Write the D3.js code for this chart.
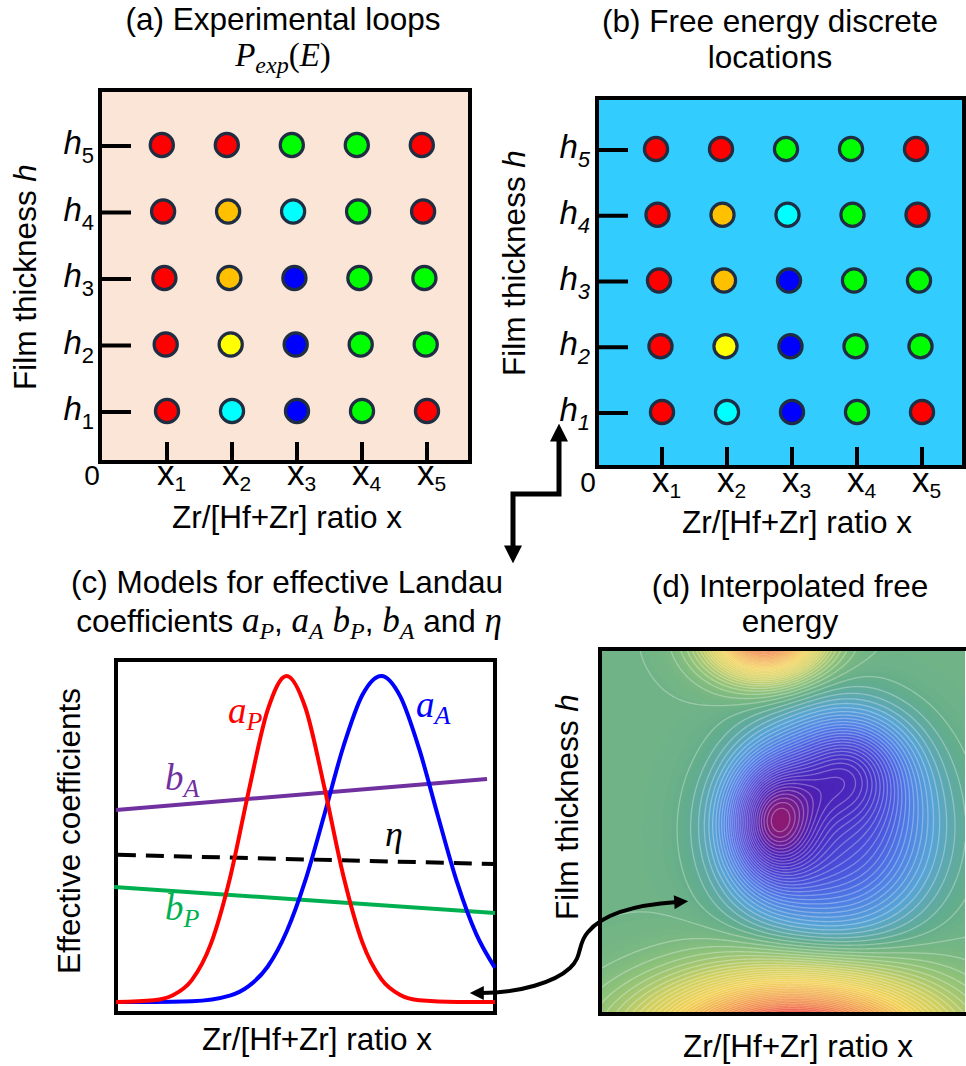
<!DOCTYPE html>
<html>
<head>
<meta charset="utf-8">
<script src="https://cdn.jsdelivr.net/npm/d3@7"></script>
<style>
  body { margin: 0; background: #fff; }
  text { font-family: "Liberation Sans", Arial, sans-serif; fill: #000; }
  .math { font-family: "Liberation Serif", "Times New Roman", serif; font-style: italic; }
</style>
</head>
<body>
<svg id="fig" width="966" height="1066"></svg>
<script>
// ---- data -------------------------------------------------------------
const xLevels = ['1', '2', '3', '4', '5'];
const hLevels = ['1', '2', '3', '4', '5'];

// Loop type observed at each (h, x) site, rows h1..h5, columns x1..x5.
const loopGrid = [
  ['red', 'cyan', 'blue', 'green', 'red'],
  ['red', 'yellow', 'blue', 'green', 'green'],
  ['red', 'orange', 'blue', 'green', 'green'],
  ['red', 'orange', 'cyan', 'green', 'red'],
  ['red', 'red', 'green', 'green', 'red'],
];
const loopColors = {
  red: '#ff0000', orange: '#ffc000', yellow: '#ffff00',
  green: '#00ff00', cyan: '#00ffff', blue: '#0000ff',
};

// Panel (c): effective coefficients vs composition (arbitrary units 0..10).
const aP = [[0, 0.31], [1, 0.36], [1.5, 0.5], [2, 0.93], [2.5, 1.95], [3, 3.79], [3.5, 6.28],
  [4, 8.58], [4.5, 9.55], [5, 8.64], [5.5, 6.38], [6, 3.88], [6.5, 2.0], [7, 0.96],
  [7.5, 0.51], [8, 0.36], [9, 0.31], [10, 0.31]];
const aA = [[0, 0.31], [1, 0.31], [2, 0.33], [3, 0.49], [3.5, 0.76], [4, 1.31], [4.5, 2.3],
  [5, 3.77], [5.5, 5.63], [6, 7.55], [6.5, 9.01], [7, 9.55], [7.5, 8.97], [8, 7.48],
  [8.5, 5.56], [9, 3.7], [9.5, 2.25], [10, 1.28]];
const bA = [[0, 5.75], [9.79, 6.63]];
const eta = [[0.05, 4.48], [10, 4.22]];
const bP = [[-0.05, 3.57], [10, 2.83]];

// Panel (d): free-energy landscape as wells (negative) and ridges (positive),
// in unit coordinates of the plot (u right, v down).
const wellU = [0.47, 0.68, 0.63, 0.53, 0.45];
const wellV = [0.47, 0.32, 0.5, 1.08, -0.04];
const wellDepth = [-1.3, -0.8, -1.2, 3.0, 2.4];
const wellSU = [0.08, 0.11, 0.19, 0.25, 0.1];
const wellSV = [0.11, 0.1, 0.19, 0.12, 0.075];
const wellShape = [1, 1, 1.25, 1, 1];

// ---- drawing ----------------------------------------------------------
const FS = 31.5;
const svg = d3.select('#fig');
const defs = svg.append('defs');

function addArrowMarker(id, len, wid) {
  defs.append('marker')
    .attr('id', id)
    .attr('viewBox', '0 0 10 10')
    .attr('refX', 2).attr('refY', 5)
    .attr('markerUnits', 'userSpaceOnUse')
    .attr('markerWidth', len).attr('markerHeight', wid)
    .attr('orient', 'auto-start-reverse')
    .append('path')
    .attr('d', 'M0,0 L10,5 L0,10 z')
    .attr('fill', '#000');
}
addArrowMarker('bigHead', 18, 19);
addArrowMarker('smallHead', 16, 14);

// Write "base" with a subscript using tspans.
function subText(sel, base, sub, opt) {
  const t = sel.append('text')
    .attr('x', opt.x).attr('y', opt.y)
    .attr('text-anchor', opt.anchor || 'start')
    .style('font-size', opt.size + 'px')
    .style('fill', opt.color || '#000');
  if (opt.math) t.attr('class', 'math');
  t.append('tspan').text(base).style('font-style', opt.baseItalic ? 'italic' : null);
  t.append('tspan')
    .attr('dy', opt.subDy)
    .style('font-size', opt.subSize + 'px')
    .style('font-style', opt.subItalic ? 'italic' : null)
    .text(sub);
  return t;
}

function title(lines, cx, y0, gap) {
  lines.forEach((l, i) => {
    svg.append('text')
      .attr('x', cx).attr('y', y0 + i * gap)
      .attr('text-anchor', 'middle')
      .style('font-size', FS + 'px')
      .text(l);
  });
}

function yTitle(text, italicTail, x, cy) {
  const t = svg.append('text')
    .attr('transform', `translate(${x},${cy}) rotate(-90)`)
    .attr('text-anchor', 'middle')
    .style('font-size', FS + 'px');
  t.append('tspan').text(text);
  if (italicTail) t.append('tspan').style('font-style', 'italic').text(italicTail);
}

function xTitle(cx, y) {
  svg.append('text')
    .attr('x', cx).attr('y', y)
    .attr('text-anchor', 'middle')
    .style('font-size', FS + 'px')
    .text('Zr/[Hf+Zr] ratio x');
}

// Grid panels (a) and (b).
function gridPanel(cfg) {
  const [x0, y0, x1, y1] = cfg.box;
  const g = svg.append('g');
  const xs = d3.scalePoint().domain(xLevels).range(cfg.xRange);
  const ys = d3.scalePoint().domain(hLevels).range(cfg.yRange);

  g.append('rect')
    .attr('x', x0).attr('y', y0)
    .attr('width', x1 - x0).attr('height', y1 - y0)
    .attr('fill', cfg.fill)
    .attr('stroke', '#000').attr('stroke-width', 4);

  // h ticks
  g.selectAll('line.ht').data(hLevels).join('line')
    .attr('x1', x0).attr('x2', x0 + 31)
    .attr('y1', (d) => ys(d)).attr('y2', (d) => ys(d))
    .attr('stroke', '#000').attr('stroke-width', 4);
  // x ticks
  g.selectAll('line.xt').data(xLevels).join('line')
    .attr('x1', (d) => xs(d)).attr('x2', (d) => xs(d))
    .attr('y1', y1 - 20).attr('y2', y1)
    .attr('stroke', '#000').attr('stroke-width', 4);

  hLevels.forEach((h) => {
    subText(g, 'h', h, {
      x: cfg.hLabelX, y: ys(h) + 8, anchor: 'end', size: 33, baseItalic: true,
      subSize: 22, subDy: 9, subItalic: cfg.italicSub,
    });
  });
  xLevels.forEach((xl) => {
    subText(g, 'x', xl, {
      x: xs(xl) - 10, y: cfg.xLabelY, size: 35, subSize: 21, subDy: 6,
    });
  });
  g.append('text')
    .attr('x', cfg.zeroX).attr('y', cfg.xLabelY)
    .attr('text-anchor', 'middle')
    .style('font-size', '28px')
    .text('0');

  // loop-type dots
  const cells = [];
  loopGrid.forEach((row, i) => row.forEach((c, j) => cells.push({h: hLevels[i], x: xLevels[j], c})));
  g.selectAll('circle').data(cells).join('circle')
    .attr('cx', (d) => xs(d.x) + cfg.rowShift * (+d.h - 1))
    .attr('cy', (d) => ys(d.h) - 1)
    .attr('r', 11.6)
    .attr('fill', (d) => loopColors[d.c])
    .attr('stroke', '#1f2d42')
    .attr('stroke-width', 3.2);
}

gridPanel({
  box: [100, 90, 470, 462], fill: '#fbe5d6',
  xRange: [167, 427], yRange: [412, 146],
  hLabelX: 94, xLabelY: 485, zeroX: 92, italicSub: false, rowShift: -1.3,
});
gridPanel({
  box: [597, 98, 964, 467], fill: '#33ccff',
  xRange: [662, 922], yRange: [413, 150],
  hLabelX: 590, xLabelY: 492, zeroX: 588, italicSub: true, rowShift: -1.5,
});

title(['(a) Experimental loops'], 283, 30, 0);
{
  const t = svg.append('text').attr('class', 'math')
    .attr('x', 283).attr('y', 66).attr('text-anchor', 'middle')
    .style('font-size', '33px');
  t.append('tspan').text('P');
  t.append('tspan').attr('dy', 7).style('font-size', '24px').text('exp');
  t.append('tspan').attr('dy', -7).style('font-style', 'normal').text('(');
  t.append('tspan').text('E');
  t.append('tspan').style('font-style', 'normal').text(')');
}
yTitle('Film thickness ', 'h', 36, 277);
xTitle(287, 528);

title(['(b) Free energy discrete', 'locations'], 770, 32, 36);
yTitle('Film thickness ', 'h', 525, 263);
xTitle(797, 533);

// Step arrow linking (b) to (c)
svg.append('path')
  .attr('d', 'M559,438 V494 H513 V549')
  .attr('fill', 'none').attr('stroke', '#000').attr('stroke-width', 5)
  .attr('stroke-linejoin', 'miter')
  .attr('marker-start', 'url(#bigHead)')
  .attr('marker-end', 'url(#bigHead)');

// ---- panel (c) --------------------------------------------------------
{
  const box = [116, 660, 495, 1013];
  const x = d3.scaleLinear().domain([0, 10]).range([box[0], box[2]]);
  const y = d3.scaleLinear().domain([0, 10]).range([box[3], box[1]]);
  const g = svg.append('g');
  g.append('rect')
    .attr('x', box[0]).attr('y', box[1])
    .attr('width', box[2] - box[0]).attr('height', box[3] - box[1])
    .attr('fill', '#fff').attr('stroke', '#000').attr('stroke-width', 4);

  const line = d3.line().x((d) => x(d[0])).y((d) => y(d[1])).curve(d3.curveMonotoneX);
  const series = [
    {data: bA, color: '#7030a0'},
    {data: eta, color: '#000', dash: '18,10'},
    {data: bP, color: '#00b050'},
    {data: aA, color: '#0000ff'},
    {data: aP, color: '#ff0000'},
  ];
  g.selectAll('path.s').data(series).join('path')
    .attr('d', (d) => line(d.data))
    .attr('fill', 'none')
    .attr('stroke', (d) => d.color)
    .attr('stroke-width', 4)
    .attr('stroke-dasharray', (d) => d.dash || null);

  const lab = [
    {b: 'a', s: 'P', c: '#ff0000', px: 228, py: 723},
    {b: 'a', s: 'A', c: '#0000ff', px: 416, py: 717},
    {b: 'b', s: 'A', c: '#7030a0', px: 165, py: 790},
    {b: 'b', s: 'P', c: '#00b050', px: 165, py: 920},
  ];
  lab.forEach((l) => subText(g, l.b, l.s, {
    x: l.px, y: l.py, size: 37, subSize: 26, subDy: 7, color: l.c, math: true,
  }));
  g.append('text').attr('class', 'math')
    .attr('x', 385).attr('y', 846)
    .style('font-size', '36px').text('η');
}

title(['(c) Models for effective Landau'], 287, 593, 0);
{
  const t = svg.append('text')
    .attr('x', 289).attr('y', 632).attr('text-anchor', 'middle')
    .style('font-size', FS + 'px');
  t.append('tspan').text('coefficients ');
  const parts = [['a', 'P', ', '], ['a', 'A', ' '], ['b', 'P', ', '], ['b', 'A', ' and ']];
  parts.forEach(([b, s, tail]) => {
    t.append('tspan').attr('class', 'math').style('font-size', '35px').text(b);
    t.append('tspan').attr('class', 'math').attr('dy', 7).style('font-size', '24px').text(s);
    t.append('tspan').attr('dy', -7).text(tail);
  });
  t.append('tspan').attr('class', 'math').style('font-size', '35px').text('η');
}
yTitle('Effective coefficients', null, 80, 831);
xTitle(317, 1050);

// ---- panel (d) --------------------------------------------------------
{
  const box = [600, 649, 966, 1014];
  const w = box[2] - box[0];
  const h = box[3] - box[1];
  const nx = 183;
  const ny = 183;
  const values = new Float64Array(nx * ny);
  for (let j = 0; j < ny; ++j) {
    for (let i = 0; i < nx; ++i) {
      const u = (i + 0.5) / nx;
      const v = (j + 0.5) / ny;
      let f = 0;
      for (let k = 0; k < wellU.length; ++k) {
        const du = (u - wellU[k]) / wellSU[k];
        const dv = (v - wellV[k]) / wellSV[k];
        f += wellDepth[k] * Math.exp(-Math.pow(0.5 * (du * du + dv * dv), wellShape[k]));
      }
      values[i + j * nx] = f;
    }
  }
  const [vmin, vmax] = d3.extent(values);
  const color = d3.scaleLinear()
    .domain([-1, -0.9, -0.8, -0.66, -0.5, -0.34, -0.18, -0.04,
      0.08, 0.25, 0.45, 0.65, 0.85, 1])
    .range(['#8c1a72', '#6a1c98', '#4c20b6', '#4832c8', '#4a52dc', '#4f7ee6', '#58a4d6',
      '#63ad8c', '#8ec27a', '#cfd060', '#f2d050', '#f2a844', '#f07a3c', '#f03c32'])
    .clamp(true);
  const norm = (t) => (t < 0 ? -t / vmin : t / vmax);

  defs.append('clipPath').attr('id', 'clipD')
    .append('rect').attr('x', box[0]).attr('y', box[1]).attr('width', w).attr('height', h);

  const g = svg.append('g').attr('clip-path', 'url(#clipD)');
  const inner = g.append('g')
    .attr('transform', `translate(${box[0]},${box[1]}) scale(${w / nx},${h / ny})`);
  const path = d3.geoPath();

  const fillLevels = d3.range(vmin, vmax, (vmax - vmin) / 240);
  inner.selectAll('path.f')
    .data(d3.contours().size([nx, ny]).thresholds(fillLevels)(values))
    .join('path')
    .attr('d', path)
    .attr('fill', (d) => color(norm(d.value)))
    .attr('stroke', (d) => color(norm(d.value)))
    .attr('stroke-width', 0.3);

  const lineLevels = d3.range(vmin + 0.06, vmax, 0.07);
  inner.selectAll('path.l')
    .data(d3.contours().size([nx, ny]).thresholds(lineLevels)(values))
    .join('path')
    .attr('d', path)
    .attr('fill', 'none')
    .attr('stroke', 'rgba(255,255,255,0.3)')
    .attr('stroke-width', 1.3)
    .attr('vector-effect', 'non-scaling-stroke');

  svg.append('path')
    .attr('d', `M${box[2]},${box[1]} H${box[0]} V${box[3]} H${box[2]}`)
    .attr('fill', 'none').attr('stroke', '#000').attr('stroke-width', 4);
}

title(['(d) Interpolated free', 'energy'], 790, 597, 35);
yTitle('Film thickness ', 'h', 578, 807);
xTitle(798, 1057);

// Curved double arrow linking (c) and (d)
svg.append('path')
  .attr('d', 'M481,993 C520,993 555,982 570,968 C583,956 577,944 588,932 C602,915 632,905 677,902')
  .attr('fill', 'none').attr('stroke', '#000').attr('stroke-width', 4)
  .attr('marker-start', 'url(#smallHead)')
  .attr('marker-end', 'url(#smallHead)');
</script>
</body>
</html>
